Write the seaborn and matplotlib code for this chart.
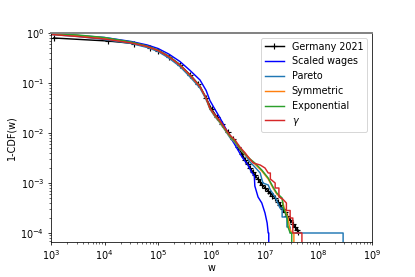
import numpy as np
import pandas as pd
import matplotlib
matplotlib.use("Agg")
import matplotlib.pyplot as plt
import seaborn as sns

# ---- data (log10 of w, log10 of 1-CDF) ----
ZERO = None  # marks the final drop of an empirical CCDF (1-CDF = 0)

germany_lw = [3.05, 4.06, 4.55, 4.85, 5.00, 5.20, 5.41, 5.60, 5.75, 5.90, 6.00, 6.10,
              6.20, 6.30, 6.40, 6.50, 6.57, 6.63, 6.68, 6.72, 6.77, 6.81, 6.86, 6.91,
              6.95, 7.00, 7.05, 7.09, 7.14, 7.19, 7.24, 7.28, 7.33, 7.37, 7.42, 7.47,
              7.52, 7.56, 7.60, 7.62]
germany_lp = [-0.10, -0.16, -0.21, -0.29, -0.35, -0.47, -0.64, -0.84, -1.02, -1.30, -1.52, -1.68,
              -1.82, -1.98, -2.12, -2.28, -2.42, -2.54, -2.62, -2.70, -2.77, -2.84, -2.91, -2.98,
              -3.04, -3.10, -3.15, -3.20, -3.25, -3.30, -3.37, -3.44, -3.51, -3.58, -3.66, -3.74,
              -3.81, -3.88, -3.94, -3.98]

wages_lw = [3.0, 3.5, 4.0, 4.5, 4.8, 5.0, 5.2, 5.41, 5.6, 5.785, 5.9, 5.97, 6.05, 6.16,
            6.25, 6.35, 6.44, 6.57, 6.68, 6.76, 6.80, 6.81, 6.87, 6.94, 6.97, 7.00, 7.04,
            7.06, 7.07, 7.07]
wages_lp = [-0.02, -0.05, -0.09, -0.17, -0.24, -0.31, -0.42, -0.57, -0.75, -0.94, -1.15, -1.35,
            -1.50, -1.70, -1.88, -2.08, -2.24, -2.48, -2.64, -2.80, -2.86, -3.06, -3.28, -3.40,
            -3.50, -3.60, -3.80, -4.0, -4.0, ZERO]

pareto_lw = [3.0, 3.5, 4.0, 4.5, 4.8, 5.0, 5.2, 5.41, 5.6, 5.785, 5.9, 5.97, 6.05, 6.16,
             6.25, 6.35, 6.44, 6.53, 6.63, 6.72, 6.81, 6.91, 6.96, 7.06, 7.10, 7.19, 7.28,
             7.32, 7.32, 7.41, 7.41, 7.47, 7.47, 8.46, 8.46]
pareto_lp = [-0.03, -0.07, -0.13, -0.21, -0.29, -0.37, -0.50, -0.67, -0.88, -1.10, -1.33, -1.52,
             -1.65, -1.80, -1.94, -2.10, -2.20, -2.32, -2.44, -2.58, -2.68, -2.80, -3.00, -3.04,
             -3.14, -3.28, -3.50, -3.50, -3.68, -3.68, -3.88, -3.88, -4.0, -4.0, ZERO]

symm_lw = [3.0, 3.5, 4.0, 4.5, 4.8, 5.0, 5.2, 5.41, 5.6, 5.785, 5.9, 5.97, 6.05, 6.16,
           6.25, 6.35, 6.44, 6.53, 6.63, 6.72, 6.81, 6.94, 7.06, 7.15, 7.22, 7.32, 7.36,
           7.43, 7.46, 7.50, 7.54, 7.54]
symm_lp = [-0.02, -0.05, -0.10, -0.19, -0.27, -0.35, -0.47, -0.64, -0.85, -1.07, -1.31, -1.51,
           -1.64, -1.79, -1.93, -2.08, -2.18, -2.31, -2.43, -2.53, -2.62, -2.76, -2.92, -3.10,
           -3.22, -3.32, -3.50, -3.70, -3.90, -4.0, -4.0, ZERO]

expo_lw = [3.0, 3.5, 4.0, 4.5, 4.8, 5.0, 5.2, 5.41, 5.6, 5.785, 5.9, 5.97, 6.05, 6.16,
           6.25, 6.35, 6.44, 6.53, 6.63, 6.72, 6.81, 6.94, 7.06, 7.15, 7.22, 7.32, 7.34,
           7.41, 7.43, 7.47, 7.50, 7.50]
expo_lp = [-0.01, -0.04, -0.09, -0.18, -0.26, -0.34, -0.46, -0.63, -0.84, -1.06, -1.30, -1.50,
           -1.63, -1.78, -1.92, -2.07, -2.17, -2.30, -2.42, -2.52, -2.60, -2.74, -2.90, -3.08,
           -3.20, -3.30, -3.48, -3.68, -3.88, -4.0, -4.0, ZERO]

gamma_lw = [3.0, 3.5, 4.0, 4.5, 4.8, 5.0, 5.2, 5.41, 5.6, 5.785, 5.9, 5.97, 6.05, 6.16,
            6.25, 6.35, 6.44, 6.53, 6.63, 6.70, 6.78, 6.91, 7.00, 7.06, 7.10, 7.10, 7.19,
            7.19, 7.26, 7.26, 7.33, 7.40, 7.40, 7.47, 7.47, 7.52, 7.52, 7.69, 7.69]
gamma_lp = [-0.03, -0.07, -0.12, -0.20, -0.27, -0.35, -0.47, -0.64, -0.84, -1.07, -1.30, -1.50,
            -1.62, -1.76, -1.90, -2.05, -2.14, -2.28, -2.40, -2.50, -2.60, -2.64, -2.70, -2.80,
            -2.80, -2.92, -3.00, -3.10, -3.10, -3.28, -3.32, -3.40, -3.55, -3.55, -3.70, -3.70,
            -4.0, -4.0, ZERO]

labels = ["Germany 2021", "Scaled wages", "Pareto", "Symmetric", "Exponential", r"$\gamma$"]
colors = ["black", "blue", "C0", "C1", "C2", "C3"]


def to_lin(lw, lp):
    w = np.power(10.0, np.array(lw, dtype=float))
    p = np.array([0.0 if v is None else 10.0 ** v for v in lp])
    return w, p


series = [(germany_lw, germany_lp), (wages_lw, wages_lp), (pareto_lw, pareto_lp),
          (symm_lw, symm_lp), (expo_lw, expo_lp), (gamma_lw, gamma_lp)]

fig = plt.figure(figsize=(415 / 69.2, 277 / 69.2), dpi=69.2)
ax = fig.add_axes([51 / 415, 1 - 242 / 277, (372 - 51) / 415, (242 - 33) / 277])

for i, ((lw, lp), lab, col) in enumerate(zip(series, labels, colors)):
    w, p = to_lin(lw, lp)
    df = pd.DataFrame({"w": w, "p": p})
    kw = dict(marker="+", markersize=5.5, markeredgewidth=1.2,
              markeredgecolor="black", markerfacecolor="black") if i == 0 else {}
    sns.lineplot(data=df, x="w", y="p", sort=False, estimator=None, color=col,
                 label=lab, linewidth=1.5, ax=ax, **kw)

ax.set_xscale("log")
ax.set_yscale("log")
ax.set_xlim(1e3, 1e9)
ax.set_ylim(10 ** -4.18, 1.0)
ax.set_xlabel("w", labelpad=2)
ax.set_ylabel("1-CDF(w)")
ax.tick_params(axis="x", pad=2.5)
ax.spines["top"].set_color("gray")
ax.spines["top"].set_linewidth(2.0)
ax.legend(loc="upper right")

fig.savefig("out.png", dpi=69.2)
